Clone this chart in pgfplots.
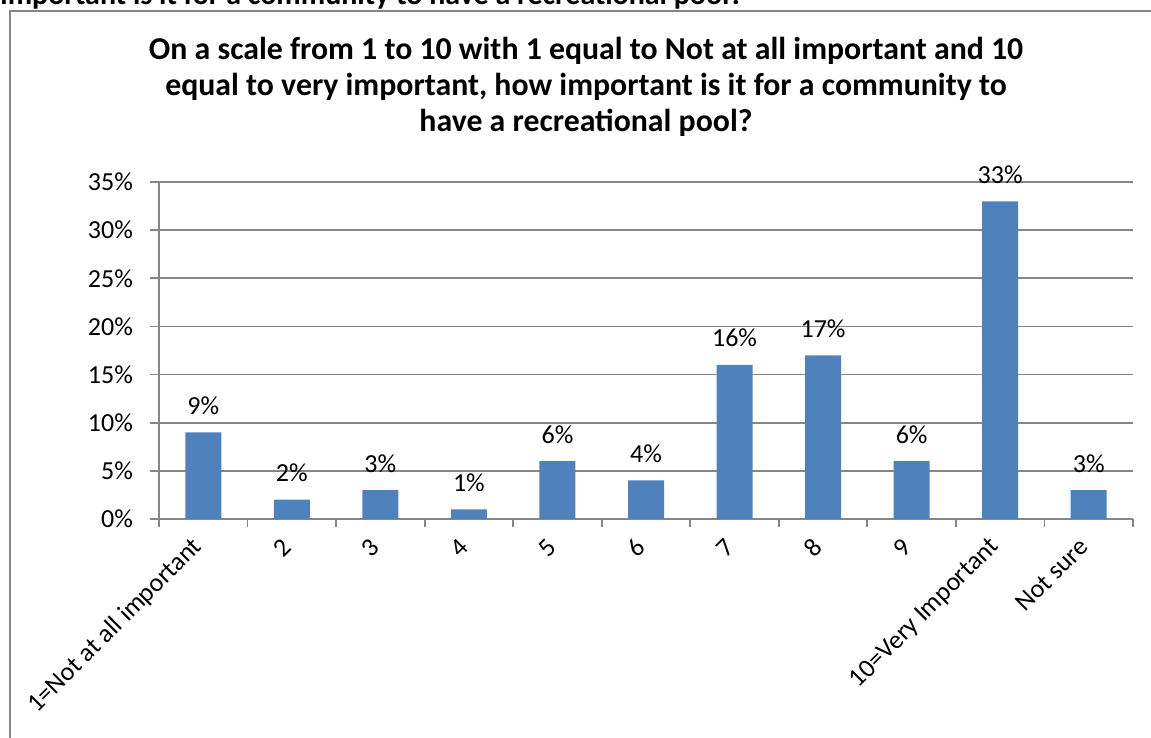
\documentclass[border=0pt]{standalone}
\usepackage{pgfplots}
\pgfplotsset{compat=1.18}
\usepackage{fontspec}
\setmainfont{Carlito}
\definecolor{barblue}{HTML}{4F81BD}
\definecolor{gridgray}{HTML}{868686}
\begin{document}
\begin{tikzpicture}
\useasboundingbox (0,0) rectangle (575.5pt,369pt);
\node[anchor=base west, inner sep=0pt, font=\bfseries\fontsize{15}{17}\selectfont] at (0pt,366.5pt) {important is it for a community to have a recreational pool?};
\draw[gridgray, line width=1pt] (5pt,-2pt) -- (5pt,363.5pt) -- (580pt,363.5pt);
\node[align=center, font=\bfseries\fontsize{15.9}{18}\selectfont] at (293pt,325.5pt)
 {On a scale from 1 to 10 with 1 equal to Not at all important and 10\\equal to very important, how important is it for a community to\\have a recreational pool?};
\begin{axis}[
  at={(79.5pt,109.5pt)}, anchor=south west,
  scale only axis, width=487pt, height=168.5pt,
  xmin=-0.5, xmax=10.5, ymin=0, ymax=35,
  axis x line*=bottom, axis y line*=left,
  axis line style={gridgray, line width=0.9pt, -},
  ybar, bar width=18pt,
  ytick={0,5,...,35},
  yticklabels={0\%,5\%,10\%,15\%,20\%,25\%,30\%,35\%},
  ymajorgrids, grid style={gridgray, line width=0.9pt},
  tick align=outside,
  major tick length=4.5pt,
  tick style={gridgray, line width=0.9pt},
  xtick={0,...,10},
  x tick style={draw=none},
  minor xtick={-0.5,0.5,...,10.5},
  minor x tick style={draw=gridgray, line width=0.9pt},
  minor tick length=4pt,
  xticklabels={1=Not at all important,2,3,4,5,6,7,8,9,10=Very Important,Not sure},
  xticklabel shift=5pt,
  xticklabel style={rotate=45, anchor=east, font=\fontsize{13}{15}\selectfont},
  yticklabel style={font=\fontsize{13}{15}\selectfont, xshift=-5pt},
  /pgf/number format/assume math mode=true,
  nodes near coords={\pgfmathprintnumber{\pgfplotspointmeta}\%},
  nodes near coords style={anchor=base, yshift=9pt, font=\fontsize{13}{15}\selectfont, text=black},
  clip=false,
]
\addplot[fill=barblue, draw=none] coordinates {(0,9) (1,2) (2,3) (3,1) (4,6) (5,4) (6,16) (7,17) (8,6) (9,33) (10,3)};
\end{axis}
\end{tikzpicture}
\end{document}
